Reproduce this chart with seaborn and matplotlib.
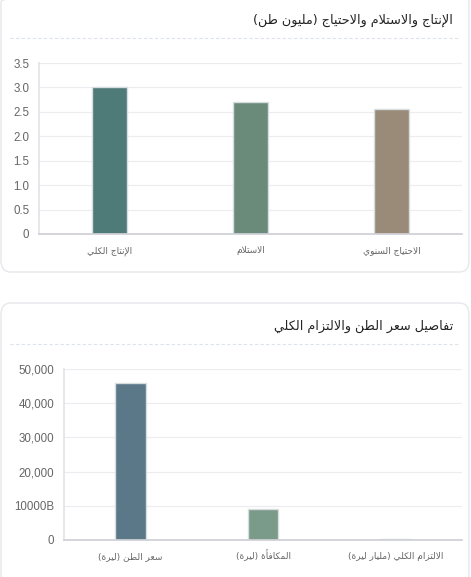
import matplotlib
matplotlib.use("Agg")
import matplotlib.pyplot as plt
from matplotlib.patches import FancyBboxPatch
from matplotlib.lines import Line2D
import pandas as pd
import seaborn as sns

# --- DATA ---
title_top = "الإنتاج والاستلام والاحتياج (مليون طن)"
cats_top = ["الإنتاج الكلي", "الاستلام", "الاحتياج السنوي"]
vals_top = [3.0, 2.7, 2.55]
colors_top = ["#4e7a78", "#6a8b7a", "#9a8a78"]
yticks_top = [0, 0.5, 1.0, 1.5, 2.0, 2.5, 3.0, 3.5]
ylabels_top = ["0", "0.5", "1.0", "1.5", "2.0", "2.5", "3.0", "3.5"]

title_bot = "تفاصيل سعر الطن والالتزام الكلي"
cats_bot = ["سعر الطن (ليرة)", "المكافأة (ليرة)", "الالتزام الكلي (مليار ليرة)"]
vals_bot = [46000, 9000, 250]
colors_bot = ["#5b7888", "#7a9a8a", "#cfd0d2"]
yticks_bot = [0, 10000, 20000, 30000, 40000, 50000]
ylabels_bot = ["0", "10000B", "20,000", "30,000", "40,000", "50,000"]

# --- minimal arabic shaping (matplotlib has no text shaping) ---
# isolated form code point in Presentation Forms-B, number of forms
AR = {'ء': (0xFE80, 1), 'آ': (0xFE81, 2), 'أ': (0xFE83, 2), 'ؤ': (0xFE85, 2),
      'إ': (0xFE87, 2), 'ئ': (0xFE89, 4), 'ا': (0xFE8D, 2), 'ب': (0xFE8F, 4),
      'ة': (0xFE93, 2), 'ت': (0xFE95, 4), 'ث': (0xFE99, 4), 'ج': (0xFE9D, 4),
      'ح': (0xFEA1, 4), 'خ': (0xFEA5, 4), 'د': (0xFEA9, 2), 'ذ': (0xFEAB, 2),
      'ر': (0xFEAD, 2), 'ز': (0xFEAF, 2), 'س': (0xFEB1, 4), 'ش': (0xFEB5, 4),
      'ص': (0xFEB9, 4), 'ض': (0xFEBD, 4), 'ط': (0xFEC1, 4), 'ظ': (0xFEC5, 4),
      'ع': (0xFEC9, 4), 'غ': (0xFECD, 4), 'ف': (0xFED1, 4), 'ق': (0xFED5, 4),
      'ك': (0xFED9, 4), 'ل': (0xFEDD, 4), 'م': (0xFEE1, 4), 'ن': (0xFEE5, 4),
      'ه': (0xFEE9, 4), 'و': (0xFEED, 2), 'ى': (0xFEEF, 2), 'ي': (0xFEF1, 4),
      'لآ': (0xFEF5, 2), 'لأ': (0xFEF7, 2), 'لإ': (0xFEF9, 2), 'لا': (0xFEFB, 2)}


def shape(text):
    chars = []
    i = 0
    while i < len(text):
        if text[i] == 'ل' and text[i:i + 2] in AR and len(text[i:i + 2]) == 2:
            chars.append(text[i:i + 2])
            i += 2
        else:
            chars.append(text[i])
            i += 1
    out = []
    for k, c in enumerate(chars):
        if c not in AR:
            out.append(c)
            continue
        base, n = AR[c]
        prev = AR.get(chars[k - 1]) if k > 0 else None
        nxt = AR.get(chars[k + 1]) if k + 1 < len(chars) else None
        jp = n > 1 and prev is not None and prev[1] == 4
        jn = n == 4 and nxt is not None
        if jp and jn:
            cp = base + 3
        elif jp:
            cp = base + 1
        elif jn:
            cp = base + 2
        else:
            cp = base
        out.append(chr(cp))
    return ''.join(out)[::-1].translate(str.maketrans('()', ')('))


sns.set_theme(style="white")
plt.rcParams['font.family'] = ['DejaVu Sans']

W, H = 471, 577
fig = plt.figure(figsize=(W / 100, H / 100), dpi=100)
fig.patch.set_facecolor("white")


def px(x, y):
    return x / W, 1 - y / H


# cards
for (x0, y0, x1, y1) in [(1, -10, 469, 272), (1, 303, 469, 590)]:
    fx, fy = px(x0, y1)
    card = FancyBboxPatch((fx, fy), (x1 - x0) / W, (y1 - y0) / H,
                          boxstyle="round,pad=0,rounding_size=0.02",
                          transform=fig.transFigure, facecolor="none",
                          edgecolor="#e6e8ec", linewidth=1, zorder=-5)
    fig.patches.append(card)


def draw(title, ty, sep_y, rect, cats, vals, colors, yticks, ylabels, width):
    fig.text(453 / W, 1 - ty / H, shape(title), ha="right", va="center",
             fontsize=9.2, color="#222222")
    fig.lines.append(Line2D([10 / W, 460 / W], [1 - sep_y / H] * 2,
                            transform=fig.transFigure, color="#dde3ea",
                            linestyle=(0, (3, 2)), linewidth=0.8))
    left, top, right, bottom = rect
    ax = fig.add_axes([left / W, 1 - bottom / H, (right - left) / W, (bottom - top) / H])
    ax.patch.set_alpha(0)
    df = pd.DataFrame({"cat": cats, "val": vals})
    sns.barplot(data=df, x="cat", y="val", hue="cat", palette=colors,
                legend=False, width=width, ax=ax, saturation=1,
                edgecolor="#d8dde0", linewidth=1)
    ax.set_xlim(-0.5, len(cats) - 0.5)
    ax.set_ylim(yticks[0], yticks[-1])
    ax.set_yticks(yticks)
    ax.set_yticklabels(ylabels, fontsize=8.3, color="#666666", family=["Liberation Sans"])
    ax.set_xticks(range(len(cats)))
    ax.set_xticklabels([shape(c) for c in cats], fontsize=6.5, color="#666666")
    for lab in ax.get_xticklabels():
        lab.set_va("baseline")
    ax.tick_params(axis="both", length=0)
    ax.tick_params(axis="y", pad=7)
    ax.tick_params(axis="x", pad=14)
    ax.set_xlabel("")
    ax.set_ylabel("")
    ax.grid(axis="y", color="#ececf0", linewidth=0.8)
    ax.set_axisbelow(True)
    for s in ["top", "right"]:
        ax.spines[s].set_visible(False)
    ax.spines["left"].set_color("#e3e3e8")
    ax.spines["bottom"].set_color("#cfd0d6")
    return ax


draw(title_top, 20, 38, (39, 63, 462, 234), cats_top, vals_top, colors_top,
     yticks_top, ylabels_top, 0.25)
draw(title_bot, 326, 344, (64, 369, 462, 540), cats_bot, vals_bot, colors_bot,
     yticks_bot, ylabels_bot, 0.23)

fig.savefig("out.png", dpi=100, facecolor="white")
